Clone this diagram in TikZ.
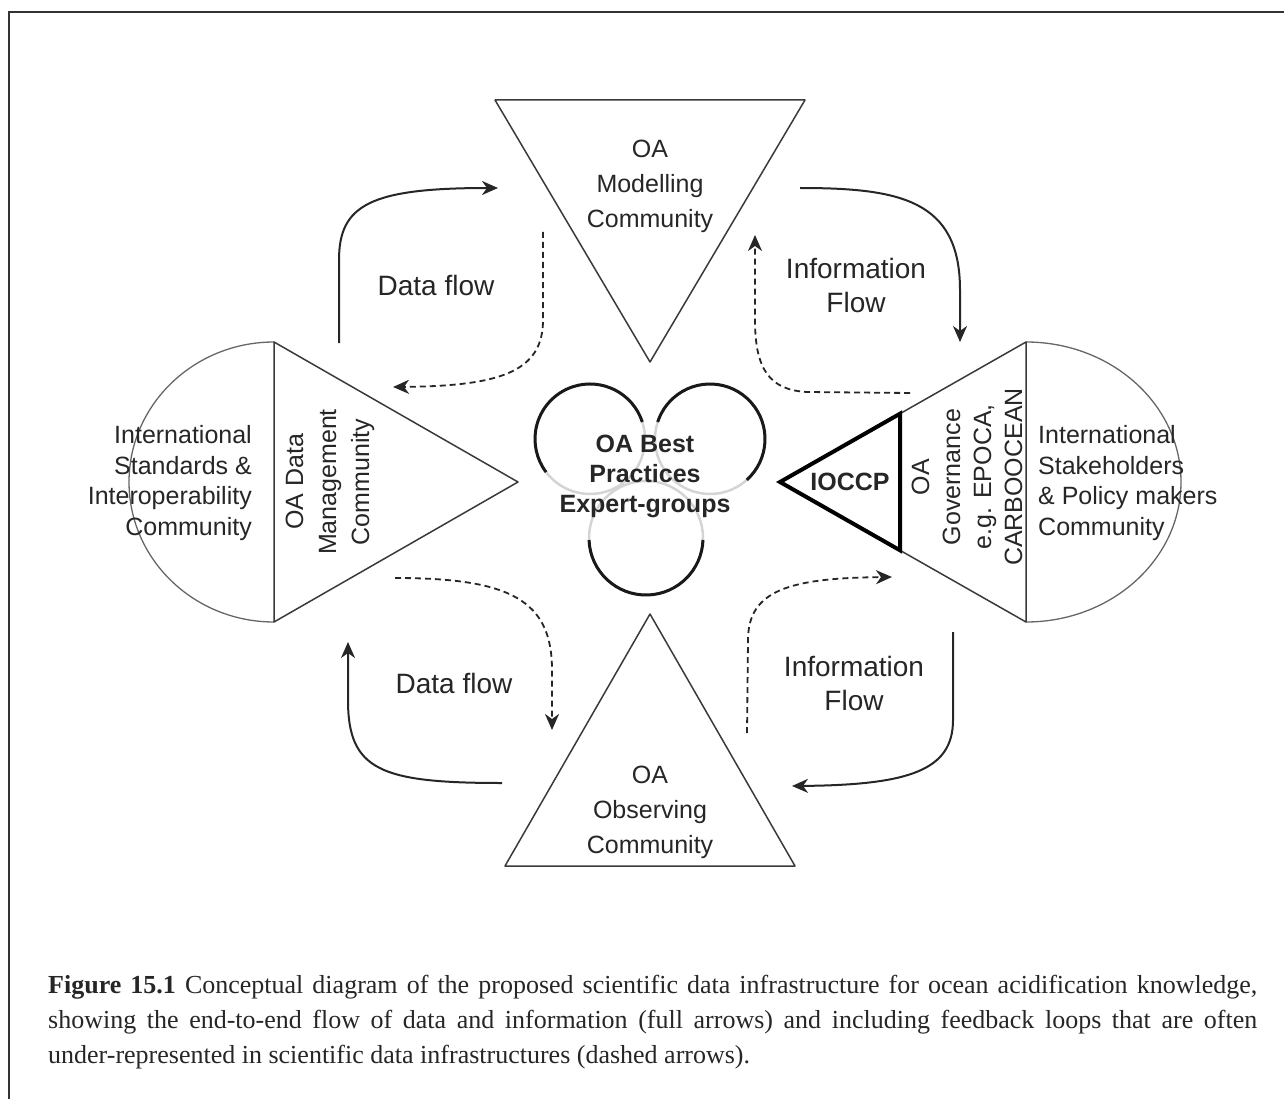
\documentclass[tikz,border=0pt]{standalone}
\usepackage{fontspec}
\setmainfont{Liberation Sans}
\newfontfamily\capfont{Liberation Serif}
\usetikzlibrary{arrows.meta}
\definecolor{inkc}{HTML}{262626}
\definecolor{linec}{HTML}{3A3A3A}
\definecolor{ringgray}{HTML}{D4D4D4}
\begin{document}
\begin{tikzpicture}[x=1pt,y=-1pt,
  shapeline/.style={draw=linec, line width=1.5pt, line join=round},
  arcline/.style={draw=black!60, line width=1.3pt},
  thickline/.style={draw=black, line width=4pt, line join=miter},
  flowsolid/.style={draw=black!85, line width=2pt, -{Stealth[length=16pt,width=14pt,inset=5pt]}},
  flowdash/.style={draw=black!85, line width=1.8pt, dash pattern=on 6pt off 4pt, -{Stealth[length=16pt,width=14pt,inset=5pt]}},
  flowlabel/.style={text=inkc, align=center, font=\fontsize{28}{34}\selectfont, inner sep=0pt},
  boxtext/.style={text=inkc, font=\fontsize{25}{30.5}\selectfont, inner sep=0pt},
  boldtext/.style={text=inkc, font=\fontsize{25}{30}\selectfont\bfseries, inner sep=0pt, align=center},
  ringblack/.style={draw=black!90, line width=3pt},
  ringlight/.style={draw=ringgray, line width=2.5pt},
  captext/.style={text=inkc, font=\capfont\fontsize{26}{35}\selectfont, inner sep=0pt, anchor=base west}
]
\useasboundingbox (0,0) rectangle (1284,1099);
% frame (top and left)
\draw[draw=black!80, line width=2.5pt] (9,1099) -- (9,12) -- (1284,12);

% ---------- coordinates ----------
\coordinate (m1) at (495,100);
\coordinate (m2) at (805,100);
\coordinate (m3) at (650,362);
\coordinate (o1) at (650,614);
\coordinate (o2) at (505,866);
\coordinate (o3) at (795,866);
\coordinate (lt) at (274,342);
\coordinate (lb) at (274,622);
\coordinate (la) at (518,482);
\coordinate (rt) at (1026,342);
\coordinate (rb) at (1026,622);
\coordinate (ra) at (780,482);
\coordinate (i1) at (900,413.7);
\coordinate (i2) at (900,550.3);

% ---------- modelling / observing triangles ----------
\draw[shapeline] (m1) -- (m2) -- (m3) -- cycle;
\draw[shapeline] (o1) -- (o3) -- (o2) -- cycle;

% ---------- left shape ----------
\draw[arcline] (lt) arc[start angle=270, end angle=90, x radius=145, y radius=140];
\draw[shapeline] (lt) -- (lb) -- (la) -- cycle;

% ---------- right shape ----------
\draw[arcline] (rt) arc[start angle=-90, end angle=90, x radius=155, y radius=140];
\draw[shapeline] (i1) -- (rt) -- (rb) -- (i2);
\draw[thickline] (ra) -- (i1) -- (i2) -- cycle;

% ---------- central rings ----------
\coordinate (c1) at (590,439);
\coordinate (c2) at (710,439);
\coordinate (c3) at (646,538);
\draw[ringlight] (c1) circle[radius=55];
\draw[ringlight] (c2) circle[radius=55];
\draw[ringlight] (c3) circle[radius=57];
\draw[ringblack] (c1) ++(-18:55) arc[start angle=-18, end angle=-217, radius=55];
\draw[ringblack] (c2) ++(48:55) arc[start angle=48, end angle=-162, radius=55];
\draw[ringblack] (c3) ++(-182:57) arc[start angle=-182, end angle=-358, radius=57];

% ---------- texts ----------
\node[boxtext, align=center, font=\fontsize{25}{35}\selectfont] (model) at (650,186) {OA\\Modelling\\Community};
\node[boxtext, align=center, font=\fontsize{25}{35}\selectfont] (observ) at (650,812) {OA\\Observing\\Community};
\node[boldtext] (best) at (645,476) {OA Best\\Practices\\Expert-groups};
\node[boxtext, align=right, anchor=east] (intstd) at (252,483) {International\\Standards \&\\Interoperability\\Community};
\node[boxtext, align=left, anchor=west] (intstk) at (1038,483) {International\\Stakeholders\\\& Policy makers\\Community};
\node[boxtext, align=center, rotate=90, font=\fontsize{25}{33}\selectfont] (datamgmt) at (330,482) {OA Data\\Management\\Community};
\node[boxtext, align=center, rotate=90, font=\fontsize{25}{31}\selectfont] (gov) at (967,477) {OA\\Governance\\e.g. EPOCA,\\CARBOOCEAN};
\node[boldtext] (ioccp) at (850,482) {IOCCP};

\node[flowlabel] (df1) at (436,285) {Data flow};
\node[flowlabel] (df2) at (454,683) {Data flow};
\node[flowlabel] (if1) at (856,285) {Information\\Flow};
\node[flowlabel] (if2) at (854,683) {Information\\Flow};

% ---------- arrow end points ----------
\coordinate (a1s) at (339,343);  \coordinate (a1e) at (498,188);
\coordinate (a2s) at (543,232);  \coordinate (a2e) at (393,387);
\coordinate (a3s) at (800,188);  \coordinate (a3e) at (960,342);
\coordinate (a4s) at (910,393);  \coordinate (a4e) at (755,235);
\coordinate (a5s) at (395,578);  \coordinate (a5e) at (552,730);
\coordinate (a6s) at (502,783);  \coordinate (a6e) at (348,642);
\coordinate (a7s) at (747,733);  \coordinate (a7e) at (892,577);
\coordinate (a8s) at (953,632);  \coordinate (a8e) at (792,786);

% ---------- flows ----------
\draw[flowsolid] (a1s) -- (339,260) .. controls (339,205) and (370,188) .. (a1e);
\draw[flowdash]  (a2s) -- (543,320) .. controls (543,372) and (500,386) .. (a2e);
\draw[flowsolid] (a3s) .. controls (900,188) and (960,200) .. (960,290) -- (a3e);
\draw[flowdash]  (a4s) -- (807,392) .. controls (770,390) and (755,370) .. (755,320) -- (a4e);
\draw[flowdash]  (a5s) .. controls (510,578) and (552,600) .. (552,670) -- (a5e);
\draw[flowsolid] (a6s) .. controls (380,783) and (348,770) .. (348,700) -- (a6e);
\draw[flowdash]  (a7s) -- (748,640) .. controls (748,590) and (790,578) .. (a7e);
\draw[flowsolid] (a8s) -- (953,720) .. controls (953,770) and (910,785) .. (a8e);

% ---------- caption ----------
\node[captext] (cap1) at (48,993) {\makebox[1209pt][s]{\textbf{Figure 15.1} Conceptual diagram of the proposed scientific data infrastructure for ocean acidification knowledge,}};
\node[captext] (cap2) at (48,1028) {\makebox[1209pt][s]{showing the end-to-end flow of data and information (full arrows) and including feedback loops that are often}};
\node[captext] (cap3) at (48,1063) {under-represented in scientific data infrastructures (dashed arrows).};
\end{tikzpicture}
\end{document}
